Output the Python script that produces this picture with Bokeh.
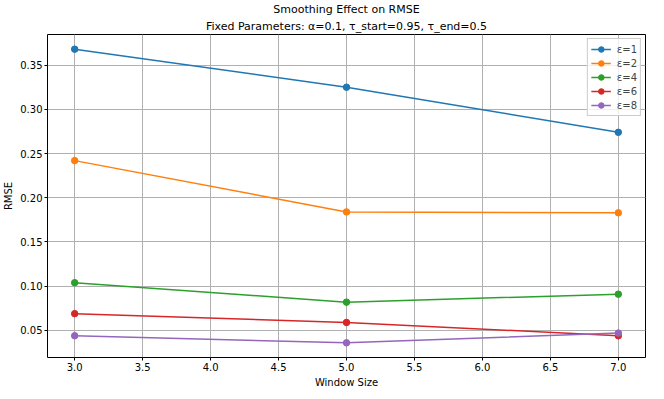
from bokeh.plotting import figure
from bokeh.models import Title, FixedTicker, PrintfTickFormatter, Range1d, Legend, LegendItem
from bokeh.embed import file_html
from bokeh.resources import INLINE

window_sizes = [3, 5, 7]
eps_labels = ["ε=1", "ε=2", "ε=4", "ε=6", "ε=8"]
rmse_eps1 = [0.368, 0.325, 0.274]
rmse_eps2 = [0.242, 0.184, 0.183]
rmse_eps4 = [0.104, 0.082, 0.091]
rmse_eps6 = [0.069, 0.059, 0.044]
rmse_eps8 = [0.044, 0.036, 0.047]
x_ticks = [3.0, 3.5, 4.0, 4.5, 5.0, 5.5, 6.0, 6.5, 7.0]
y_ticks = [0.05, 0.10, 0.15, 0.20, 0.25, 0.30, 0.35]

series = [rmse_eps1, rmse_eps2, rmse_eps4, rmse_eps6, rmse_eps8]
colors = ["#1f77b4", "#ff7f0e", "#2ca02c", "#d62728", "#9467bd"]

FONT = "DejaVu Sans"

p = figure(width=648, height=390, output_backend="svg", toolbar_location=None,
           x_range=Range1d(2.8, 7.2), y_range=Range1d(0.0194, 0.3846),
           min_border_left=42, min_border_right=3, min_border_top=6, min_border_bottom=0)

p.add_layout(Title(text="Fixed Parameters: α=0.1, τ_start=0.95, τ_end=0.5", align="center",
                   text_font=FONT, text_font_size="11px", text_font_style="normal",
                   text_color="#000000", offset=0, standoff=4), "above")
p.add_layout(Title(text="Smoothing Effect on RMSE", align="center",
                   text_font=FONT, text_font_size="11px", text_font_style="normal",
                   text_color="#000000", standoff=0), "above")

items = []
for vals, col, lab in zip(series, colors, eps_labels):
    r1 = p.line(window_sizes, vals, line_color=col, line_width=1.5)
    r2 = p.scatter(window_sizes, vals, size=6.5, fill_color=col, line_color=col)
    items.append(LegendItem(label=lab, renderers=[r1, r2]))

legend = Legend(items=items, location="top_right", label_text_font=FONT,
                label_text_font_size="10px", spacing=0, glyph_height=14, label_height=14,
                glyph_width=20, padding=3, margin=4, border_line_color="#cccccc",
                border_line_alpha=1, background_fill_alpha=0.8, label_standoff=6)
p.add_layout(legend)

p.xaxis.ticker = FixedTicker(ticks=x_ticks)
p.yaxis.ticker = FixedTicker(ticks=y_ticks)
p.xaxis.formatter = PrintfTickFormatter(format="%.1f")
p.yaxis.formatter = PrintfTickFormatter(format="%.2f")
p.xaxis.axis_label = "Window Size"
p.yaxis.axis_label = "RMSE"

for ax in [p.xaxis[0], p.yaxis[0]]:
    ax.axis_label_text_font = FONT
    ax.axis_label_text_font_size = "10px"
    ax.axis_label_text_font_style = "normal"
    ax.axis_label_text_color = "#000000"
    ax.major_label_text_font = FONT
    ax.major_label_text_font_size = "10px"
    ax.major_label_text_color = "#000000"
    ax.axis_line_color = None
    ax.major_tick_line_color = "#000000"
    ax.major_tick_out = 3
    ax.major_tick_in = 0
    ax.minor_tick_line_color = None
    ax.major_label_standoff = 2
    ax.axis_label_standoff = 3

p.outline_line_color = "#000000"
p.outline_line_width = 1
p.xgrid.grid_line_color = "#b0b0b0"
p.ygrid.grid_line_color = "#b0b0b0"
p.xgrid.grid_line_width = 1
p.ygrid.grid_line_width = 1
p.background_fill_color = "#ffffff"
p.border_fill_color = "#ffffff"

open("out.html", "w").write(file_html(p, INLINE))
